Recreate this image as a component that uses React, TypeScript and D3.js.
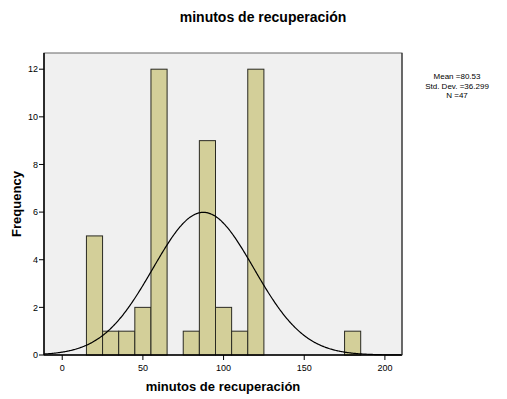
import React from "react";
import * as d3 from "d3";

// Histogram of recovery minutes (bins of width 10)
const binCenters = [20, 30, 40, 50, 60, 70, 80, 90, 100, 110, 120, 130, 140, 150, 160, 170, 180];
const binCounts = [5, 1, 1, 2, 12, 0, 1, 9, 2, 1, 12, 0, 0, 0, 0, 0, 1];
const binWidth = 10;

const xTicks = [0, 50, 100, 150, 200];
const yTicks = [0, 2, 4, 6, 8, 10, 12];

// Summary shown beside the plot
const statsLines = ["Mean =80.53", "Std. Dev. =36.299", "N =47"];

// Normal curve overlay: centre, spread, sample size
const curveMean = [87.5];
const curveSd = [31.3];
const curveN = [47];

const W = 507;
const H = 399;
const plot = { left: 44, right: 402, top: 53, bottom: 355 };
const FONT = "'Liberation Sans', Arial, Helvetica, sans-serif";

export default function App() {
  const x = d3.scaleLinear().domain([-11.3, 210.6]).range([plot.left, plot.right]);
  const y = d3.scaleLinear().domain([0, 12.68]).range([plot.bottom, plot.top]);

  const mu = curveMean[0];
  const sd = curveSd[0];
  const area = curveN[0] * binWidth;
  const density = (v: number) =>
    (area / (sd * Math.sqrt(2 * Math.PI))) * Math.exp(-0.5 * ((v - mu) / sd) ** 2);
  const xs = d3.range(x.domain()[0], x.domain()[1] + 0.01, 0.5);
  const curve = d3
    .line<number>()
    .x((v) => x(v))
    .y((v) => y(density(v)))
    .curve(d3.curveBasis)(xs);

  return (
    <svg
      width={W}
      height={H}
      style={{ position: "absolute", left: 0, top: 0, background: "#fff" }}
      fontFamily={FONT}
    >
      <rect x={0} y={0} width={W} height={H} fill="#fff" />
      <text x={263} y={22} textAnchor="middle" fontSize={14} fontWeight="bold" fill="#000">
        minutos de recuperación
      </text>

      {/* plot frame */}
      <rect
        x={plot.left}
        y={plot.top}
        width={plot.right - plot.left}
        height={plot.bottom - plot.top}
        fill="#f0f0f0"
        stroke="#666"
        strokeWidth={1}
      />

      {/* bars */}
      {binCenters.map((c, i) =>
        binCounts[i] > 0 ? (
          <rect
            key={c}
            x={x(c - binWidth / 2)}
            y={y(binCounts[i])}
            width={x(c + binWidth / 2) - x(c - binWidth / 2)}
            height={y(0) - y(binCounts[i])}
            fill="#d3cf99"
            stroke="#2a2a22"
            strokeWidth={1}
          />
        ) : null
      )}

      {/* normal curve */}
      <path d={curve || ""} fill="none" stroke="#000" strokeWidth={1.2} />

      {/* axes */}
      <line x1={plot.left} x2={plot.left} y1={plot.top} y2={plot.bottom} stroke="#000" strokeWidth={1.5} />
      <line x1={plot.left} x2={plot.right} y1={plot.bottom} y2={plot.bottom} stroke="#000" strokeWidth={1.5} />
      <line x1={plot.right} x2={plot.right} y1={plot.top} y2={plot.bottom} stroke="#222" strokeWidth={1} />

      {yTicks.map((t) => (
        <g key={t}>
          <line x1={plot.left - 5} x2={plot.left} y1={y(t)} y2={y(t)} stroke="#000" strokeWidth={1} />
          <text x={plot.left - 6} y={y(t) + 3.2} textAnchor="end" fontSize={9} fill="#000">
            {t}
          </text>
        </g>
      ))}

      {xTicks.map((t) => (
        <g key={t}>
          <line x1={x(t)} x2={x(t)} y1={plot.bottom} y2={plot.bottom + 5} stroke="#000" strokeWidth={1} />
          <text x={x(t)} y={371} textAnchor="middle" fontSize={9} fill="#000">
            {t}
          </text>
        </g>
      ))}

      <text x={223} y={391} textAnchor="middle" fontSize={13} fontWeight="bold" fill="#000">
        minutos de recuperación
      </text>
      <text
        transform={`translate(21, ${(plot.top + plot.bottom) / 2}) rotate(-90)`}
        textAnchor="middle"
        fontSize={13}
        fontWeight="bold"
        fill="#000"
      >
        Frequency
      </text>

      {statsLines.map((s, i) => (
        <text key={s} x={457} y={79} dy={i * 9.5} textAnchor="middle" fontSize={8} fill="#000">
          {s}
        </text>
      ))}
    </svg>
  );
}
